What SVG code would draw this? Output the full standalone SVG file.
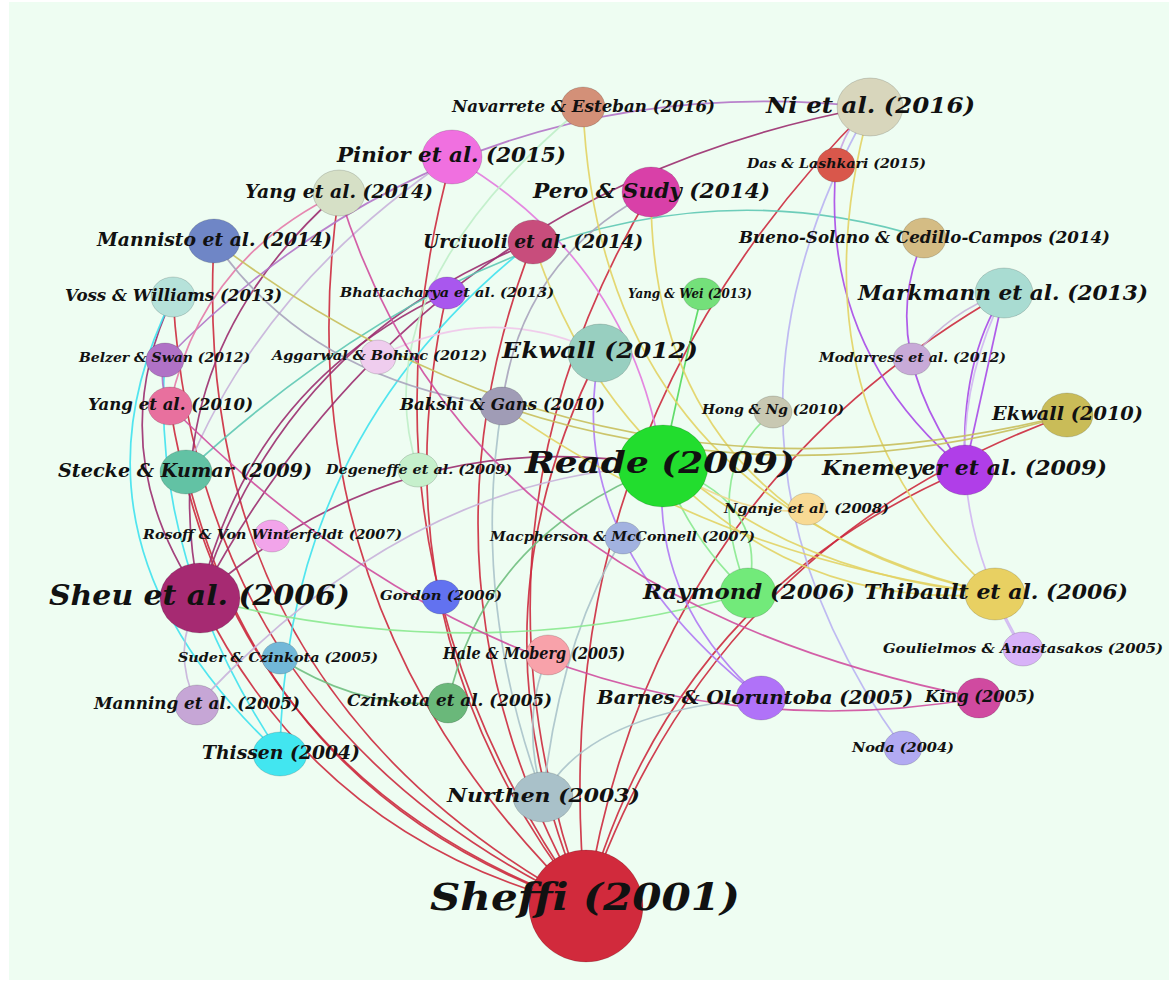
<svg xmlns="http://www.w3.org/2000/svg" width="1169" height="981" viewBox="0 0 1169 981">
<style>
.e{fill:none;stroke-width:1.7;stroke-opacity:.9}
.red{stroke:#cc2a3e}.plum{stroke:#9b2d6f}.cyan{stroke:#3fe2ee}.teal{stroke:#5ec8b4}
.viol{stroke:#b274c8}.pk{stroke:#e47aa8}.pin{stroke:#e27ade}.lil{stroke:#c8b2da}
.pg{stroke:#bfeec8}.pp{stroke:#f0c6ea}.gl{stroke:#a8a4bd}.bg{stroke:#aac3ca}
.gr{stroke:#52d85c}.cz{stroke:#70bf80}.lg{stroke:#8ae98f}.pu{stroke:#a94ae8}
.bp{stroke:#b07af4}.nd{stroke:#b9b2f2}.gou{stroke:#d0b6f2}.ki{stroke:#cf4e9f}
.ye{stroke:#e2d364}.ol{stroke:#c8bf5c}.ng{stroke:#f0d88e}.da{stroke:#c9a6e4}
.n ellipse{stroke:#000;stroke-opacity:.15;stroke-width:1}
.n text{font-family:"DejaVu Serif","Liberation Serif",serif;font-weight:bold;font-style:italic;fill:#111}
.xl{font-size:38px}.l1{font-size:29px}.l2{font-size:27px}.l3{font-size:22px}
.l4{font-size:20.5px}.l5{font-size:19.5px}.l6{font-size:18px}.l7{font-size:16px}.s{font-size:13px}
</style>
<rect x="0" y="0" width="1169" height="981" fill="#ffffff"/>
<rect x="9" y="2" width="1160" height="978" fill="#eefdf2"/>
<g id="edges">
<!-- citations of Sheffi (2001) -->
<path class="e red" d="M586,906 Q538,436 870,107"/>
<path class="e red" d="M586,906 Q448,531 651,192"/>
<path class="e red" d="M586,906 Q401,585 533,242"/>
<path class="e red" d="M586,906 Q649,497 1004,293"/>
<path class="e red" d="M586,906 Q710,543 1067,415"/>
<path class="e red" d="M586,906 Q672,595 965,470"/>
<path class="e red" d="M586,906 Q189,690 214,241"/>
<path class="e red" d="M586,906 Q320,842 200,598"/>
<path class="e red" d="M586,906 Q266,798 186,472"/>
<path class="e red" d="M586,906 Q229,778 170,406"/>
<path class="e red" d="M586,906 Q198,723 173,297"/>
<path class="e red" d="M586,906 Q340,561 452,157"/>
<path class="e red" d="M586,906 Q461,624 600,353"/>
<path class="e red" d="M586,906 Q370,630 447,293"/>
<path class="e red" d="M586,906 Q278,611 339,193"/>
<!-- Sheu et al. (2006) -->
<path class="e plum" d="M200,598 Q418,191 870,107"/>
<path class="e plum" d="M200,598 Q401,420 663,466"/>
<path class="e plum" d="M200,598 Q282,340 533,242"/>
<path class="e plum" d="M200,598 Q250,385 447,293"/>
<path class="e plum" d="M200,598 Q150,360 339,193"/>
<path class="e plum" d="M200,598 Q100,450 173,297"/>
<!-- Thissen (2004) -->
<path class="e cyan" d="M280,754 Q284,437 533,242"/>
<path class="e cyan" d="M280,754 Q50,540 173,297"/>
<path class="e cyan" d="M280,754 Q150,560 165,360"/>
<path class="e teal" d="M186,472 Q566,125 924,238"/>
<path class="e viol" d="M165,360 Q457,63 870,107"/>
<path class="e viol" d="M165,360 Q158,384 170,406"/>
<path class="e pk" d="M170,406 Q200,260 339,193"/>
<path class="e pin" d="M452,157 Q632,261 663,466"/>
<path class="e lil" d="M186,472 Q261,286 452,157"/>
<path class="e lil" d="M197,705 Q410,475 663,466"/>
<path class="e lil" d="M197,705 Q170,650 200,598"/>
<path class="e lil" d="M912,359 Q950,310 1004,293"/>
<path class="e pg" d="M418,470 Q360,292 583,107"/>
<path class="e pp" d="M378,357 Q490,300 600,353"/>
<path class="e gl" d="M502,406 Q310,380 214,241"/>
<path class="e gl" d="M502,406 Q520,260 651,192"/>
<!-- Nurthen (2003) -->
<path class="e bg" d="M543,797 Q470,600 502,406"/>
<path class="e bg" d="M543,797 Q588,712 761,698"/>
<path class="e bg" d="M543,797 Q520,720 548,655"/>
<path class="e bg" d="M543,797 Q560,640 623,538"/>
<path class="e gr" d="M663,466 Q680,380 702,294"/>
<path class="e cz" d="M448,703 Q484,535 663,466"/>
<path class="e cz" d="M448,703 Q360,710 280,658"/>
<!-- Raymond (2006) -->
<path class="e lg" d="M748,593 Q770,500 663,466"/>
<path class="e lg" d="M748,593 Q690,540 663,466"/>
<path class="e lg" d="M748,593 Q480,670 200,598"/>
<path class="e lg" d="M748,593 Q700,470 773,412"/>
<!-- Knemeyer et al. (2009) -->
<path class="e pu" d="M965,470 Q820,350 836,165"/>
<path class="e pu" d="M965,470 Q875,346 924,238"/>
<path class="e pu" d="M965,470 Q960,360 1004,293"/>
<path class="e pu" d="M965,470 Q985,380 1004,293"/>
<path class="e bp" d="M761,698 Q560,540 600,353"/>
<path class="e bp" d="M761,698 Q650,600 663,466"/>
<path class="e nd" d="M903,748 Q680,440 870,107"/>
<path class="e gou" d="M1023,649 Q1005,625 995,594"/>
<path class="e gou" d="M1023,649 Q917,469 1004,293"/>
<path class="e ki" d="M979,698 Q537,774 170,406"/>
<path class="e ki" d="M979,698 Q462,595 339,193"/>
<!-- Thibault et al. (2006) -->
<path class="e ye" d="M995,594 Q600,500 583,107"/>
<path class="e ye" d="M995,594 Q650,520 651,192"/>
<path class="e ye" d="M995,594 Q640,560 533,242"/>
<path class="e ye" d="M995,594 Q787,409 870,107"/>
<path class="e ye" d="M995,594 Q798,610 663,466"/>
<path class="e ye" d="M995,594 Q720,560 502,406"/>
<path class="e ol" d="M1067,415 Q599,532 214,241"/>
<path class="e ol" d="M1067,415 Q785,500 502,406"/>
<path class="e ng" d="M663,466 Q750,520 807,509"/>
<path class="e da" d="M836,165 Q845,125 870,107"/>
</g>
<g id="navarrete-2016" class="n"><ellipse cx="583" cy="107" rx="22" ry="20" fill="#d39078"/><text x="452" y="112" textLength="263" lengthAdjust="spacingAndGlyphs" class="l7">Navarrete &amp; Esteban (2016)</text></g>
<g id="ni-2016" class="n"><ellipse cx="870" cy="107" rx="33" ry="29" fill="#d8d6bc"/><text x="766" y="113" textLength="209" lengthAdjust="spacingAndGlyphs" class="l3">Ni et al. (2016)</text></g>
<g id="das-2015" class="n"><ellipse cx="836" cy="165" rx="19" ry="17" fill="#d9574b"/><text x="747" y="168" textLength="179" lengthAdjust="spacingAndGlyphs" class="s">Das &amp; Lashkari (2015)</text></g>
<g id="pinior-2015" class="n"><ellipse cx="452" cy="157" rx="30" ry="27" fill="#f070e0"/><text x="337" y="162" textLength="229" lengthAdjust="spacingAndGlyphs" class="l4">Pinior et al. (2015)</text></g>
<g id="yang-2014" class="n"><ellipse cx="339" cy="193" rx="26" ry="23" fill="#d6e0c6"/><text x="245" y="198" textLength="188" lengthAdjust="spacingAndGlyphs" class="l6">Yang et al. (2014)</text></g>
<g id="pero-2014" class="n"><ellipse cx="651" cy="192" rx="29" ry="25" fill="#d940a8"/><text x="533" y="198" textLength="237" lengthAdjust="spacingAndGlyphs" class="l4">Pero &amp; Sudy (2014)</text></g>
<g id="mannisto-2014" class="n"><ellipse cx="214" cy="241" rx="26" ry="22" fill="#6f86c6"/><text x="97" y="246" textLength="235" lengthAdjust="spacingAndGlyphs" class="l6">Mannisto et al. (2014)</text></g>
<g id="urciuoli-2014" class="n"><ellipse cx="533" cy="242" rx="25" ry="22" fill="#c84d7c"/><text x="423" y="248" textLength="220" lengthAdjust="spacingAndGlyphs" class="l6">Urciuoli et al. (2014)</text></g>
<g id="bueno-2014" class="n"><ellipse cx="924" cy="238" rx="22" ry="20" fill="#d4bc84"/><text x="739" y="243" textLength="371" lengthAdjust="spacingAndGlyphs" class="l7">Bueno-Solano &amp; Cedillo-Campos (2014)</text></g>
<g id="voss-2013" class="n"><ellipse cx="173" cy="297" rx="22" ry="20" fill="#b6e2da"/><text x="65" y="301" textLength="217" lengthAdjust="spacingAndGlyphs" class="l7">Voss &amp; Williams (2013)</text></g>
<g id="bhattacharya-2013" class="n"><ellipse cx="447" cy="293" rx="19" ry="16" fill="#a957ee"/><text x="340" y="297" textLength="214" lengthAdjust="spacingAndGlyphs" class="s">Bhattacharya et al. (2013)</text></g>
<g id="yangwei-2013" class="n"><ellipse cx="702" cy="294" rx="19" ry="16" fill="#74e07a"/><text x="628" y="298" textLength="124" lengthAdjust="spacingAndGlyphs" class="s">Yang &amp; Wei (2013)</text></g>
<g id="markmann-2013" class="n"><ellipse cx="1004" cy="293" rx="29" ry="25" fill="#a9dcd2"/><text x="858" y="300" textLength="290" lengthAdjust="spacingAndGlyphs" class="l4">Markmann et al. (2013)</text></g>
<g id="belzer-2012" class="n"><ellipse cx="165" cy="360" rx="19" ry="17" fill="#b072c6"/><text x="79" y="362" textLength="171" lengthAdjust="spacingAndGlyphs" class="s">Belzer &amp; Swan (2012)</text></g>
<g id="aggarwal-2012" class="n"><ellipse cx="378" cy="357" rx="18" ry="17" fill="#efcdee"/><text x="272" y="360" textLength="215" lengthAdjust="spacingAndGlyphs" class="s">Aggarwal &amp; Bohinc (2012)</text></g>
<g id="ekwall-2012" class="n"><ellipse cx="600" cy="353" rx="32" ry="29" fill="#98cfc0"/><text x="502" y="358" textLength="196" lengthAdjust="spacingAndGlyphs" class="l3">Ekwall (2012)</text></g>
<g id="modarress-2012" class="n"><ellipse cx="912" cy="359" rx="19" ry="16" fill="#c8aad8"/><text x="819" y="362" textLength="187" lengthAdjust="spacingAndGlyphs" class="s">Modarress et al. (2012)</text></g>
<g id="yang-2010" class="n"><ellipse cx="170" cy="406" rx="22" ry="19" fill="#e8709e"/><text x="88" y="410" textLength="165" lengthAdjust="spacingAndGlyphs" class="l7">Yang et al. (2010)</text></g>
<g id="bakshi-2010" class="n"><ellipse cx="502" cy="406" rx="22" ry="19" fill="#a09cb6"/><text x="400" y="410" textLength="205" lengthAdjust="spacingAndGlyphs" class="l7">Bakshi &amp; Gans (2010)</text></g>
<g id="hong-2010" class="n"><ellipse cx="773" cy="412" rx="19" ry="16" fill="#c8c8b2"/><text x="702" y="414" textLength="142" lengthAdjust="spacingAndGlyphs" class="s">Hong &amp; Ng (2010)</text></g>
<g id="ekwall-2010" class="n"><ellipse cx="1067" cy="415" rx="26" ry="22" fill="#c9bc58"/><text x="992" y="420" textLength="151" lengthAdjust="spacingAndGlyphs" class="l6">Ekwall (2010)</text></g>
<g id="reade-2009" class="n"><ellipse cx="663" cy="466" rx="45" ry="41" fill="#22dd2e"/><text x="525" y="473" textLength="270" lengthAdjust="spacingAndGlyphs" class="l1">Reade (2009)</text></g>
<g id="knemeyer-2009" class="n"><ellipse cx="965" cy="470" rx="29" ry="25" fill="#b03ee8"/><text x="822" y="475" textLength="285" lengthAdjust="spacingAndGlyphs" class="l4">Knemeyer et al. (2009)</text></g>
<g id="stecke-2009" class="n"><ellipse cx="186" cy="472" rx="26" ry="22" fill="#62c2a4"/><text x="58" y="477" textLength="254" lengthAdjust="spacingAndGlyphs" class="l6">Stecke &amp; Kumar (2009)</text></g>
<g id="degeneffe-2009" class="n"><ellipse cx="418" cy="470" rx="20" ry="17" fill="#c6f0cc"/><text x="326" y="474" textLength="186" lengthAdjust="spacingAndGlyphs" class="s">Degeneffe et al. (2009)</text></g>
<g id="nganje-2008" class="n"><ellipse cx="807" cy="509" rx="19" ry="16" fill="#f8da94"/><text x="724" y="513" textLength="165" lengthAdjust="spacingAndGlyphs" class="s">Nganje et al. (2008)</text></g>
<g id="rosoff-2007" class="n"><ellipse cx="272" cy="536" rx="18" ry="16" fill="#f2a4ea"/><text x="143" y="539" textLength="259" lengthAdjust="spacingAndGlyphs" class="s">Rosoff &amp; Von Winterfeldt (2007)</text></g>
<g id="macpherson-2007" class="n"><ellipse cx="623" cy="538" rx="18" ry="16" fill="#a2b2e0"/><text x="490" y="541" textLength="265" lengthAdjust="spacingAndGlyphs" class="s">Macpherson &amp; McConnell (2007)</text></g>
<g id="sheu-2006" class="n"><ellipse cx="200" cy="598" rx="40" ry="35" fill="#a62a72"/><text x="49" y="605" textLength="301" lengthAdjust="spacingAndGlyphs" class="l2">Sheu et al. (2006)</text></g>
<g id="gordon-2006" class="n"><ellipse cx="441" cy="597" rx="19" ry="17" fill="#6272f0"/><text x="380" y="600" textLength="122" lengthAdjust="spacingAndGlyphs" class="s">Gordon (2006)</text></g>
<g id="raymond-2006" class="n"><ellipse cx="748" cy="593" rx="28" ry="25" fill="#72ea7a"/><text x="643" y="599" textLength="212" lengthAdjust="spacingAndGlyphs" class="l5">Raymond (2006)</text></g>
<g id="thibault-2006" class="n"><ellipse cx="995" cy="594" rx="30" ry="26" fill="#e8d062"/><text x="864" y="599" textLength="264" lengthAdjust="spacingAndGlyphs" class="l5">Thibault et al. (2006)</text></g>
<g id="goulielmos-2005" class="n"><ellipse cx="1023" cy="649" rx="20" ry="17" fill="#d8b2f8"/><text x="883" y="653" textLength="280" lengthAdjust="spacingAndGlyphs" class="s">Goulielmos &amp; Anastasakos (2005)</text></g>
<g id="suder-2005" class="n"><ellipse cx="280" cy="658" rx="18" ry="16" fill="#72b8d8"/><text x="178" y="662" textLength="200" lengthAdjust="spacingAndGlyphs" class="s">Suder &amp; Czinkota (2005)</text></g>
<g id="hale-2005" class="n"><ellipse cx="548" cy="655" rx="22" ry="20" fill="#f8a2aa"/><text x="443" y="659" textLength="182" lengthAdjust="spacingAndGlyphs" class="l7">Hale &amp; Moberg (2005)</text></g>
<g id="manning-2005" class="n"><ellipse cx="197" cy="705" rx="22" ry="20" fill="#c6a6d6"/><text x="94" y="709" textLength="206" lengthAdjust="spacingAndGlyphs" class="l7">Manning et al. (2005)</text></g>
<g id="czinkota-2005" class="n"><ellipse cx="448" cy="703" rx="20" ry="20" fill="#6ab87a"/><text x="347" y="706" textLength="205" lengthAdjust="spacingAndGlyphs" class="l7">Czinkota et al. (2005)</text></g>
<g id="barnes-2005" class="n"><ellipse cx="761" cy="698" rx="25" ry="22" fill="#b072f8"/><text x="597" y="704" textLength="316" lengthAdjust="spacingAndGlyphs" class="l6">Barnes &amp; Oloruntoba (2005)</text></g>
<g id="king-2005" class="n"><ellipse cx="979" cy="698" rx="22" ry="20" fill="#d04aa0"/><text x="925" y="702" textLength="110" lengthAdjust="spacingAndGlyphs" class="l7">King (2005)</text></g>
<g id="thissen-2004" class="n"><ellipse cx="280" cy="754" rx="27" ry="22" fill="#42e6f0"/><text x="202" y="759" textLength="158" lengthAdjust="spacingAndGlyphs" class="l6">Thissen (2004)</text></g>
<g id="noda-2004" class="n"><ellipse cx="903" cy="748" rx="19" ry="17" fill="#b2aaf2"/><text x="852" y="752" textLength="102" lengthAdjust="spacingAndGlyphs" class="s">Noda (2004)</text></g>
<g id="nurthen-2003" class="n"><ellipse cx="543" cy="797" rx="30" ry="25" fill="#a9c1c9"/><text x="447" y="802" textLength="193" lengthAdjust="spacingAndGlyphs" class="l6">Nurthen (2003)</text></g>
<g id="sheffi-2001" class="n"><ellipse cx="586" cy="906" rx="57" ry="56" fill="#d12a3c"/><text x="430" y="910" textLength="310" lengthAdjust="spacingAndGlyphs" class="xl">Sheffi (2001)</text></g>
</svg>
